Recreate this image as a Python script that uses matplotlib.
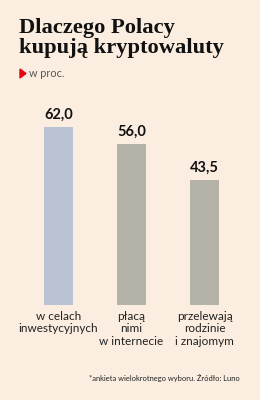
import matplotlib.pyplot as plt
from matplotlib.patches import Polygon

categories = ["w celach\ninwestycyjnych", "płacą\nnimi\nw internecie", "przelewają\nrodzinie\ni znajomym"]
values = [62.0, 56.0, 43.5]
value_labels = ["62,0", "56,0", "43,5"]
colors = ["#b9c3d4", "#b5b3a8", "#b5b3a8"]

bg = "#fbeee0"
W, H = 260, 400

fig = plt.figure(figsize=(W / 100, H / 100), dpi=100, facecolor=bg)

# axes placed in pixel coordinates: x 20..240, y 100..305 (from top)
ax = fig.add_axes([20 / W, (H - 305) / H, 220 / W, 205 / H])
ax.set_facecolor(bg)
x = range(len(values))
ax.bar(x, values, width=0.4, color=colors)
ax.set_xlim(-0.527, 2.486)
ax.set_ylim(0, 205 / 2.87)
for i, (v, lab) in enumerate(zip(values, value_labels)):
    ax.annotate(lab, (i, v), xytext=(0, 4), textcoords="offset points",
                ha="center", va="bottom", fontsize=10.5, fontweight="bold",
                family="Lato", color="#111111")
ax.set_xticks(list(x))
ax.set_xticklabels(categories, fontsize=8.5, family="Lato", color="#222222",
                   linespacing=1.2, va="top")
ax.tick_params(axis="x", length=0, pad=4)
ax.set_yticks([])
for s in ax.spines.values():
    s.set_visible(False)

fig.text(19 / W, 1 - 18 / H, "Dlaczego Polacy\nkupują kryptowaluty", ha="left", va="top",
         fontsize=16.2, fontweight="bold", family="Liberation Serif", color="#111111",
         linespacing=0.98)
fig.patches.append(Polygon([[20 / W, 1 - 69 / H], [20 / W, 1 - 78 / H], [26 / W, 1 - 73.5 / H]],
                           closed=True, transform=fig.transFigure, color="#e30613"))
fig.text(29 / W, 1 - 73.5 / H, "w proc.", ha="left", va="center", fontsize=7.8,
         family="Lato", color="#555555")
fig.text(240 / W, 1 - 378 / H, "*ankieta wielokrotnego wyboru. Źródło: Luno", ha="right",
         va="center", fontsize=5.4, family="Lato", color="#222222")

fig.savefig("out.png", dpi=100, facecolor=bg)
